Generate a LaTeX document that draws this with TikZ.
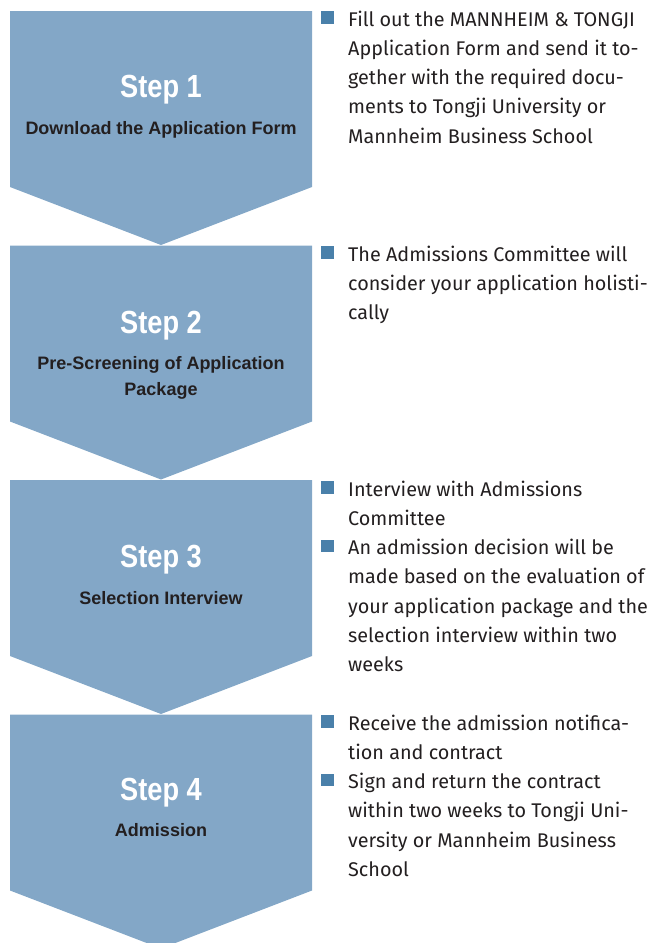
\documentclass[tikz,border=0pt]{standalone}
\usepackage{fontspec}
\setmainfont{Fira Sans}
\newfontfamily\titlefont{Liberation Sans}[FakeStretch=0.85]
\newfontfamily\subfont{Liberation Sans}
\usetikzlibrary{positioning}

\definecolor{stepblue}{RGB}{131,167,199}
\definecolor{bulletblue}{RGB}{74,128,170}
\definecolor{textdark}{RGB}{35,31,32}

\tikzset{
  chevron/.style={fill=stepblue},
  steptitle/.style={anchor=base,inner sep=0pt,text=white,font=\titlefont\bfseries\fontsize{32}{34}\selectfont},
  stepsub/.style={anchor=base,inner sep=0pt,align=center,text=textdark,font=\subfont\bfseries\fontsize{18}{26}\selectfont},
  itemtext/.style={anchor=base west,inner sep=0pt,align=left,text=textdark,font=\fontsize{19.8}{29.3}\selectfont},
  bulletbox/.style={anchor=south east,fill=bulletblue,minimum size=12.5pt,inner sep=0pt}
}

\begin{document}
\begin{tikzpicture}[x=1pt,y=-1pt]
\useasboundingbox (0,0) rectangle (650,943);

% arrows of the four steps
\begin{scope}
\clip (0,0) rectangle (650,943);
\foreach \top in {11,245.5,480,714.5}
  \fill[chevron] (10,\top) -- (312,\top) -- (312,\top+176) -- (161,\top+234) -- (10,\top+176) -- cycle;
\end{scope}

% step labels (base = last line)
\node[steptitle] (t1) at (161,97) {Step 1};
\node[stepsub] (d1) at (161,134) {Download the Application Form};
\node[steptitle] (t2) at (161,333) {Step 2};
\node[stepsub] (d2) at (161,395) {Pre-Screening of Application\\Package};
\node[steptitle] (t3) at (161,567) {Step 3};
\node[stepsub] (d3) at (161,604) {Selection Interview};
\node[steptitle] (t4) at (161,800) {Step 4};
\node[stepsub] (d4) at (161,836) {Admission};

% bullets
\node[bulletbox] (b1a) at (334,24) {};
\node[bulletbox] (b2a) at (334,259) {};
\node[bulletbox] (b3a) at (334,494) {};
\node[bulletbox] (b3b) at (334,552.6) {};
\node[bulletbox] (b4a) at (334,728) {};
\node[bulletbox] (b4b) at (334,786.6) {};

% bullet texts (base = last line)
\node[itemtext] (i1a) at (348,143.2) {Fill out the MANNHEIM \& TONGJI\\Application Form and send it to-\\gether with the required docu-\\ments to Tongji University or\\Mannheim Business School};
\node[itemtext] (i2a) at (348,319.6) {The Admissions Committee will\\consider your application holisti-\\cally};
\node[itemtext] (i3a) at (348,525.3) {Interview with Admissions\\Committee};
\node[itemtext] (i3b) at (348,671.8) {An admission decision will be\\made based on the evaluation of\\your application package and the\\selection interview within two\\weeks};
\node[itemtext] (i4a) at (348,759.3) {Receive the admission notifica-\\tion and contract};
\node[itemtext] (i4b) at (348,876.5) {Sign and return the contract\\within two weeks to Tongji Uni-\\versity or Mannheim Business\\School};
\end{tikzpicture}
\end{document}
